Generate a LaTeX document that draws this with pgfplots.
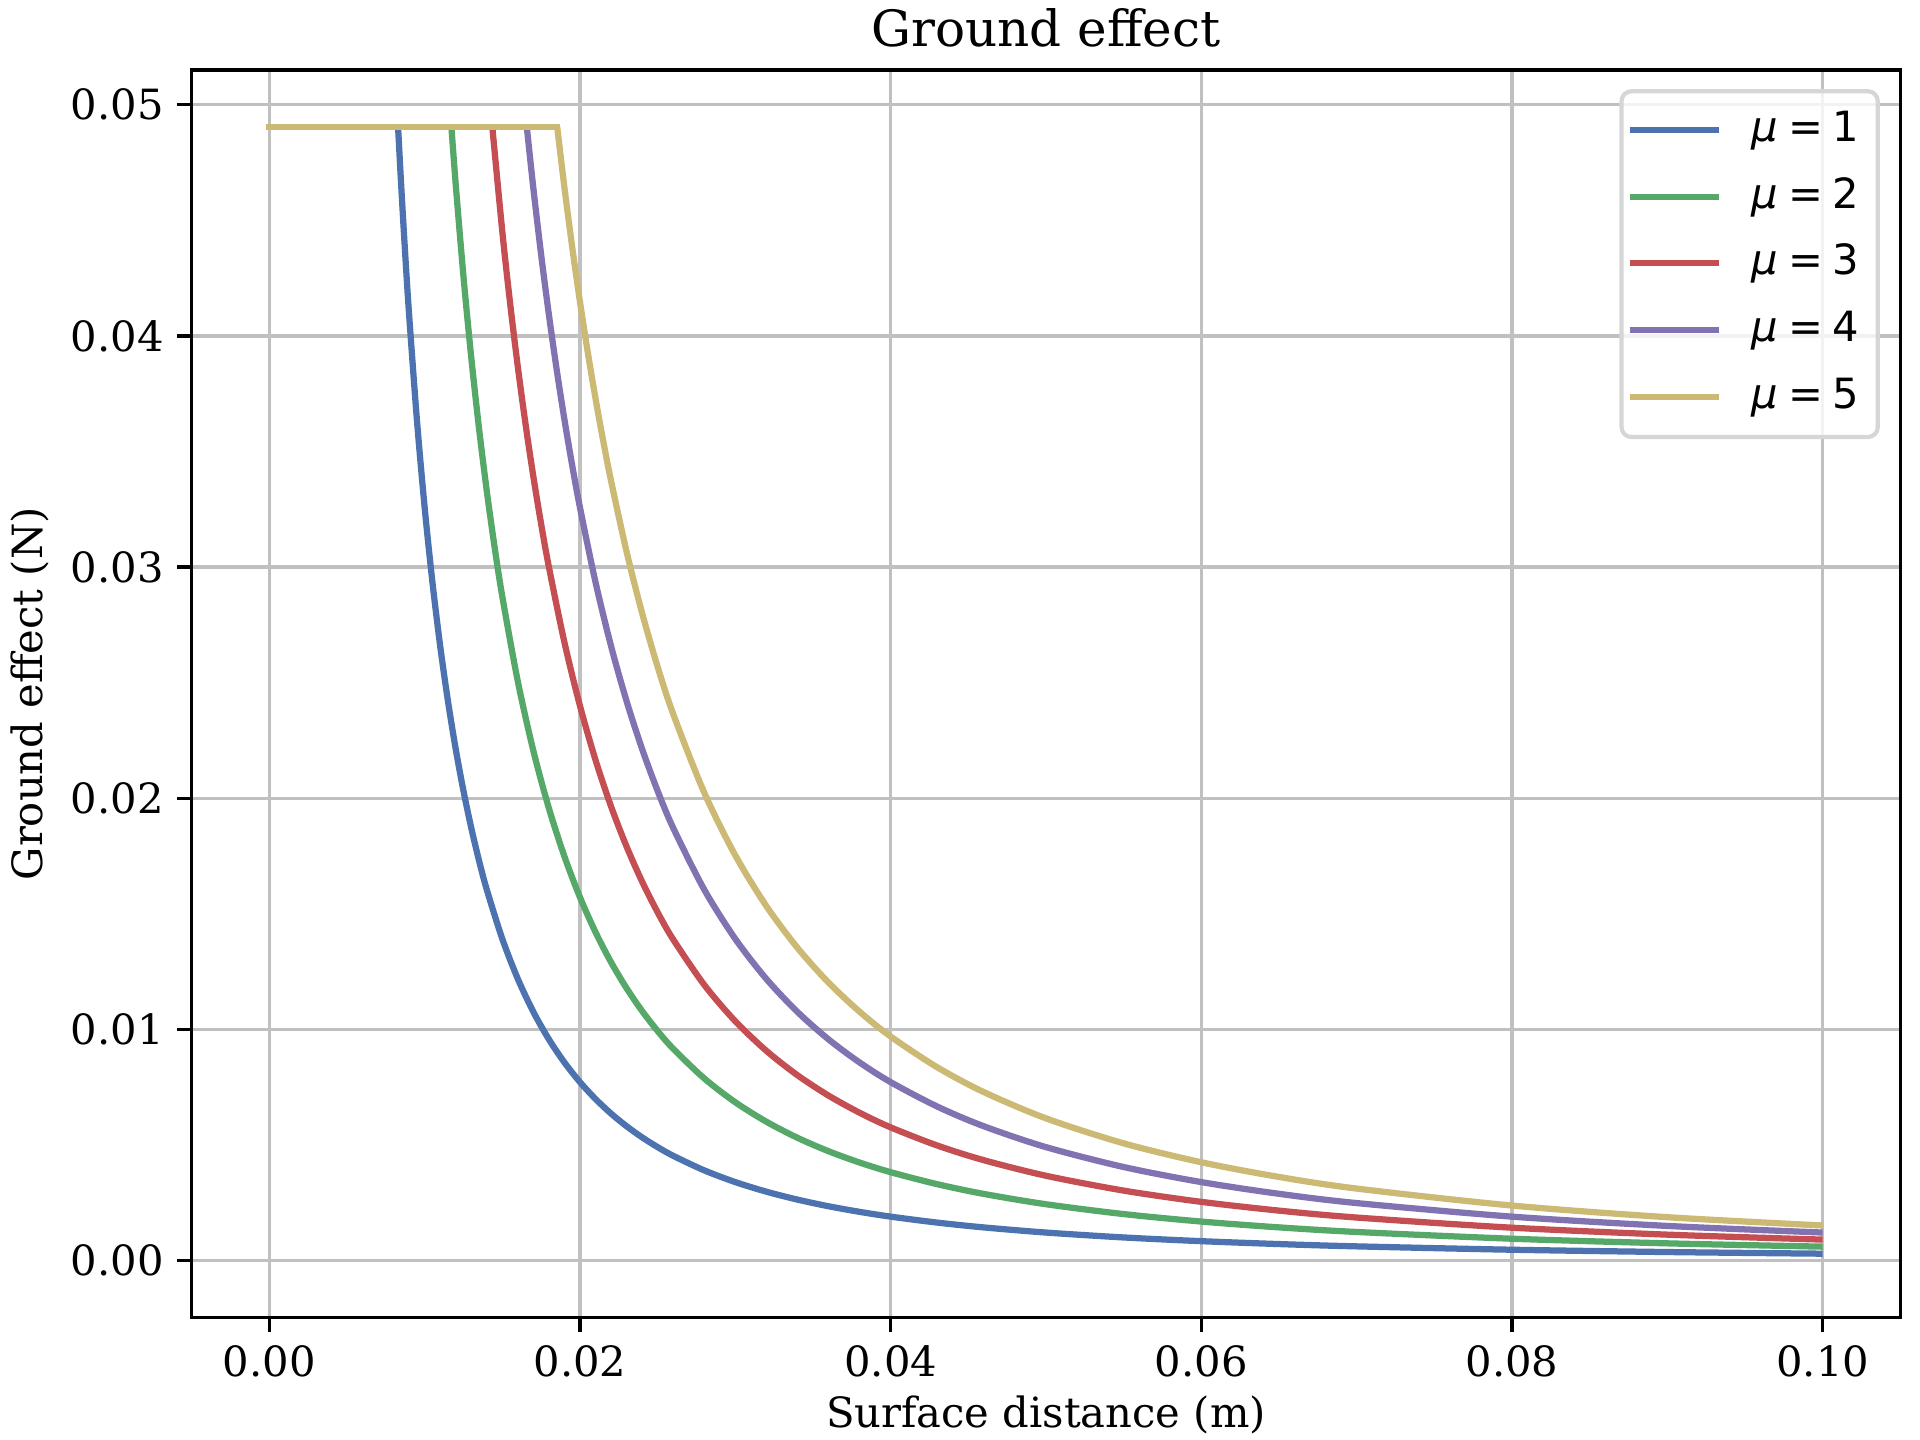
\documentclass[border=0pt]{standalone}
\usepackage{fontspec}
\setmainfont{DejaVu Serif}
\newfontfamily\dvs{DejaVu Sans}
\usepackage{pgfplots}
\pgfplotsset{compat=1.18}
\definecolor{c1}{HTML}{4C72B0}
\definecolor{c2}{HTML}{55A868}
\definecolor{c3}{HTML}{C44E52}
\definecolor{c4}{HTML}{8172B2}
\definecolor{c5}{HTML}{CCB974}
\definecolor{gridgray}{HTML}{C0C0C0}
\definecolor{leggray}{HTML}{D6D6D6}
\begin{document}
\begin{tikzpicture}
\useasboundingbox (-46.0pt,-29.42pt) rectangle (414.8pt,316.18pt);
\begin{axis}[
  at={(0,0)}, anchor=south west,
  scale only axis, width=410.07pt, height=299.38pt,
  xmin=-0.005, xmax=0.105, ymin=-0.0024525, ymax=0.0515025,
  xtick={0,0.02,0.04,0.06,0.08,0.1},
  xticklabels={0.00,0.02,0.04,0.06,0.08,0.10},
  ytick={0,0.01,0.02,0.03,0.04,0.05},
  yticklabels={0.00,0.01,0.02,0.03,0.04,0.05},
  scaled ticks=false,
  grid=major,
  major grid style={color=gridgray, line width=0.8pt},
  tick align=outside, tick pos=left,
  major tick length=3.5pt,
  tick style={black, line width=0.8pt},
  axis line style={black, line width=0.8pt},
  ticklabel style={font=\fontsize{10}{12}\selectfont},
  xticklabel style={anchor=base, inner sep=0pt, yshift=-10.6pt},
  yticklabel style={anchor=east, inner sep=0pt, xshift=-3.0pt},
  title={Ground effect},
  title style={font=\fontsize{12}{14}\selectfont, at={(axis description cs:0.5,1.0187)}, anchor=base, inner sep=0pt, yshift=-6pt},
  xlabel={Surface distance (m)},
  xlabel style={font=\fontsize{10}{12}\selectfont, at={(axis description cs:0.5,-0.0885)}, anchor=base, inner sep=0pt},
  ylabel={Ground effect (N)},
  ylabel style={font=\fontsize{10}{12}\selectfont, at={(axis description cs:-0.0871,0.5)}, anchor=base, inner sep=0pt},
  legend image code/.code={\draw[#1, line cap=butt] (0pt,2.8pt) -- (21.5pt,2.8pt);},
  legend style={at={(1,1)}, anchor=north east, xshift=-4.9pt, yshift=-4.6pt,
    draw=leggray, line width=1pt, rounded corners=2.4pt,
    fill=white, fill opacity=0.8, text opacity=1, draw opacity=1,
    font=\dvs\fontsize{10}{12}\selectfont,
    inner xsep=1.2pt, inner ysep=1.5pt, row sep=0pt, column sep=3.8pt,
    nodes={inner xsep=3.2pt, inner ysep=3.3pt, text height=7.3pt, text depth=2.1pt},
    cells={anchor=base west}},
  every axis plot/.append style={line width=1.5pt, line join=round, line cap=rect},
]
\addplot[c1, forget plot] coordinates {(0,0.04905) (0.008287,0.04905)};
\addplot[c1, smooth, line cap=butt] coordinates {
(0.008287,0.04905) (0.0085,0.046373) (0.00875,0.043509) (0.009,0.040909)
(0.0095,0.036377) (0.010,0.032574) (0.0105,0.029348) (0.011,0.026586) (0.0115,0.024203)
(0.012,0.022131) (0.0125,0.020318) (0.013,0.018721) (0.0135,0.017308) (0.014,0.016050)
(0.015,0.013918) (0.016,0.012186) (0.017,0.010761) (0.018,0.009574) (0.019,0.0085744)
(0.020,0.0077241) (0.021,0.0069948) (0.022,0.0063645) (0.023,0.0058162) (0.024,0.0053361)
(0.025,0.0049131) (0.026,0.0045386) (0.028,0.0039081) (0.030,0.0034005) (0.032,0.0029861)
(0.034,0.0026430) (0.036,0.0023559) (0.038,0.0021137) (0.040,0.0019065) (0.043,0.0016488)
(0.046,0.0014401) (0.050,0.0012183) (0.055,0.0010063) (0.060,0.00084533) (0.065,0.00072007)
(0.070,0.00062078) (0.080,0.00047512) (0.090,0.00037531) (0.100,0.00030396)
};
\addlegendentry{\textit{μ}\hspace{2.4pt}=\hspace{2.4pt}1}
\addplot[c2, forget plot] coordinates {(0,0.04905) (0.011720,0.04905)};
\addplot[c2, smooth, line cap=butt] coordinates {
(0.011720,0.04905) (0.012,0.046552) (0.0125,0.042557) (0.013,0.039068)
(0.0135,0.036000) (0.014,0.033288) (0.0145,0.030877) (0.015,0.028723) (0.016,0.025051)
(0.017,0.022050) (0.018,0.019565) (0.019,0.017482) (0.020,0.015718) (0.021,0.014210)
(0.022,0.012911) (0.023,0.011785) (0.024,0.010800) (0.025,0.0099346) (0.026,0.0091696)
(0.028,0.0078848) (0.030,0.0068528) (0.032,0.0060121) (0.034,0.0053172) (0.036,0.0047365)
(0.038,0.0042472) (0.040,0.0038292) (0.043,0.0033097) (0.046,0.0028894) (0.050,0.0024432)
(0.055,0.0020173) (0.060,0.0016939) (0.065,0.0014424) (0.070,0.0012432) (0.080,0.00095124)
(0.090,0.00075125) (0.100,0.00060832)
};
\addlegendentry{\textit{μ}\hspace{2.4pt}=\hspace{2.4pt}2}
\addplot[c3, forget plot] coordinates {(0,0.04905) (0.014354,0.04905)};
\addplot[c3, smooth, line cap=butt] coordinates {
(0.014354,0.04905) (0.015,0.044505) (0.0155,0.041421) (0.016,0.038653)
(0.0165,0.036161) (0.017,0.033907) (0.0175,0.031862) (0.018,0.030000) (0.019,0.026742)
(0.020,0.023996) (0.021,0.021657) (0.022,0.019649) (0.023,0.017912) (0.024,0.016397)
(0.025,0.015068) (0.026,0.013896) (0.028,0.011932) (0.030,0.010358) (0.032,0.0090787)
(0.034,0.0080232) (0.036,0.0071424) (0.038,0.0064011) (0.040,0.0057684) (0.043,0.0049829)
(0.046,0.0043481) (0.050,0.0036748) (0.055,0.0030327) (0.060,0.0025456) (0.065,0.0021672)
(0.070,0.0018675) (0.080,0.0014283) (0.090,0.0011278) (0.100,0.00091310)
};
\addlegendentry{\textit{μ}\hspace{2.4pt}=\hspace{2.4pt}3}
\addplot[c4, forget plot] coordinates {(0,0.04905) (0.016574,0.04905)};
\addplot[c4, smooth, line cap=butt] coordinates {
(0.016574,0.04905) (0.017,0.046373) (0.0175,0.043509) (0.018,0.040909)
(0.0185,0.038541) (0.019,0.036377) (0.0195,0.034395) (0.020,0.032574) (0.021,0.029348)
(0.022,0.026586) (0.023,0.024203) (0.024,0.022132) (0.025,0.020318) (0.026,0.018721)
(0.028,0.016051) (0.030,0.013918) (0.032,0.012186) (0.034,0.010761) (0.036,0.009574)
(0.038,0.0085754) (0.040,0.0077241) (0.043,0.0066685) (0.046,0.0058162) (0.050,0.0049131)
(0.055,0.0040527) (0.060,0.0034005) (0.065,0.0028942) (0.070,0.0024934) (0.080,0.0019065)
(0.090,0.0015050) (0.100,0.0012183)
};
\addlegendentry{\textit{μ}\hspace{2.4pt}=\hspace{2.4pt}4}
\addplot[c5, forget plot] coordinates {(0,0.04905) (0.018531,0.04905)};
\addplot[c5, smooth, line cap=butt] coordinates {
(0.018531,0.04905) (0.019,0.046409) (0.0195,0.043833) (0.020,0.041468)
(0.0205,0.039296) (0.021,0.037293) (0.0215,0.035443) (0.022,0.033731) (0.023,0.030667)
(0.024,0.028009) (0.025,0.025687) (0.026,0.023647) (0.028,0.020245) (0.030,0.017532)
(0.032,0.015338) (0.034,0.013533) (0.036,0.012031) (0.038,0.010771) (0.040,0.0096968)
(0.043,0.0083666) (0.046,0.0072938) (0.050,0.0061581) (0.055,0.0050773) (0.060,0.0042587)
(0.065,0.0036235) (0.070,0.0031211) (0.080,0.0023857) (0.090,0.0018828) (0.100,0.0015239)
};
\addlegendentry{\textit{μ}\hspace{2.4pt}=\hspace{2.4pt}5}
\end{axis}
\end{tikzpicture}
\end{document}
